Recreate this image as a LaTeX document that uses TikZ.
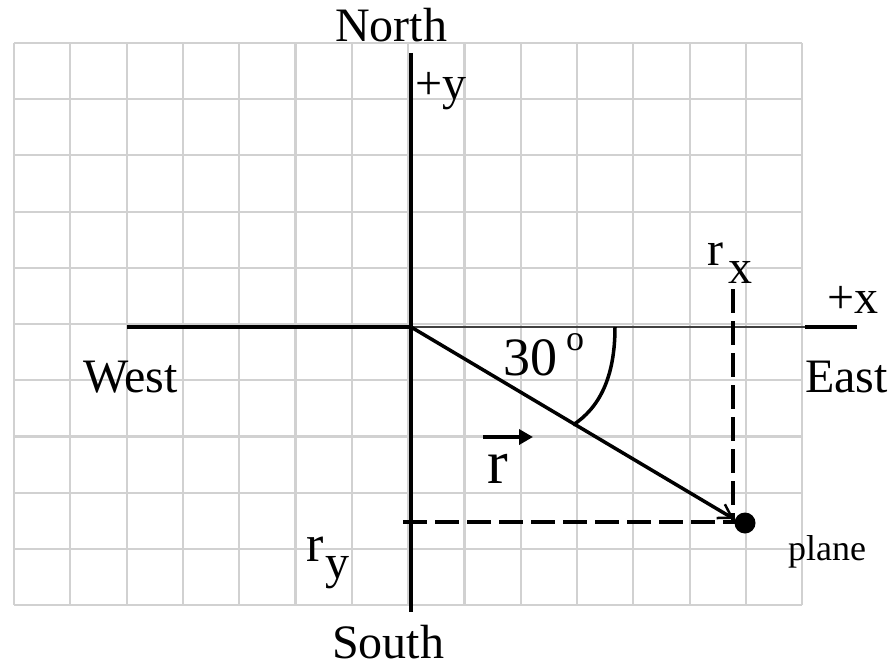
\documentclass[tikz,border=0pt]{standalone}
\usepackage{fontspec}
\setmainfont{Liberation Serif}
\usetikzlibrary{arrows.meta}
\begin{document}
\begin{tikzpicture}[x=1pt,y=-1pt,
  gridline/.style={draw=black!18, line width=2.2pt},
  axisline/.style={line width=4pt},
  lbl/.style={inner sep=0, anchor=base west, font=\fontsize{48}{50}\selectfont},
  dashline/.style={line width=4pt, dash pattern=on 24pt off 8pt}]
\useasboundingbox (0,0) rectangle (894,666);
\fill[white] (0,0) rectangle (894,666);
% grid
\foreach \i in {0,...,14} \draw[gridline] (14+56.3*\i,43) -- (14+56.3*\i,605);
\foreach \j in {0,...,10} \draw[gridline] (14,43+56.2*\j) -- (802,43+56.2*\j);
% coordinates
\coordinate (O) at (411,327);
\coordinate (ytop) at (411,53);
\coordinate (ybot) at (411,612);
\coordinate (xleft) at (127,327);
\coordinate (xmid) at (805,327);
\coordinate (xright) at (857,327);
\coordinate (tip) at (734,519);
\coordinate (rxtop) at (733,289);
\coordinate (rxbot) at (733,521);
\coordinate (ryleft) at (403,522);
\coordinate (ryright) at (735,522);
\coordinate (arcA) at (615,327);
\coordinate (arcB) at (573,425);
\coordinate (vA) at (483,437);
\coordinate (vB) at (533,437);
% axes
\draw[axisline] (ytop) -- (ybot);
\draw[axisline] (xleft) -- (O);
\draw[line width=1.8pt, black!75] (O) -- (xmid);
\draw[axisline] (xmid) -- (xright);
% dashed components
\draw[dashline] (rxtop) -- (rxbot);
\draw[dashline] (ryleft) -- (ryright);
% plane
\node[circle, fill=black, inner sep=0, minimum size=21pt] (plane) at (745,523) {};
% vector
\draw[line width=3.5pt, -{Straight Barb[length=13pt,width=16pt,line width=2.5pt]}] (O) -- (tip);
% angle arc
\draw[line width=3.5pt] (arcA) .. controls (615,378) and (599,408) .. (arcB);
% vector arrow over r
\draw[line width=4pt, -{Triangle[length=14pt,width=15pt]}] (vA) -- (vB);
% labels
\node[lbl] (north) at (335,42) {North};
\node[lbl] (py) at (415,100) {+y};
\node[lbl] (rx1) at (707,265) {r};
\node[lbl] (rx2) at (728,283) {x};
\node[lbl] (px) at (827,313) {+x};
\node[lbl] (west) at (83,392) {West};
\node[lbl] (east) at (805,392) {East};
\node[lbl, font=\fontsize{54}{56}\selectfont] (thirty) at (503,375) {30};
\node[lbl, font=\fontsize{36}{38}\selectfont] (deg) at (566,350) {o};
\node[lbl, font=\fontsize{62}{64}\selectfont] (rvec) at (487,483) {r};
\node[lbl, font=\fontsize{52}{54}\selectfont] (ry1) at (306,561) {r};
\node[lbl] (ry2) at (325,578) {y};
\node[lbl] (south) at (332,658) {South};
\node[lbl, font=\fontsize{36}{38}\selectfont] (planelbl) at (788,560) {plane};
\end{tikzpicture}
\end{document}
